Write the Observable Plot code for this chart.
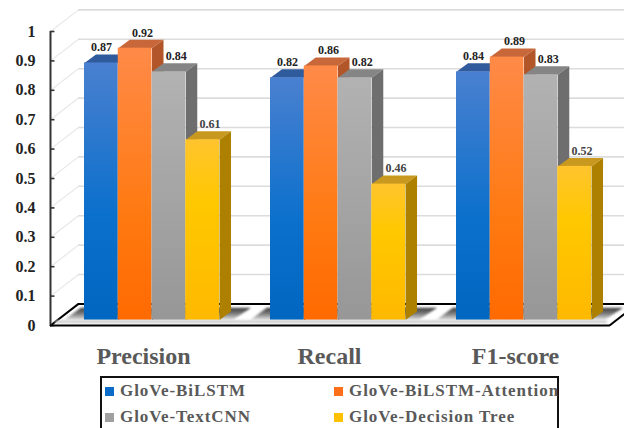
<!DOCTYPE html>
<html>
<head>
<meta charset="utf-8">
<script src="https://cdn.jsdelivr.net/npm/d3@7"></script>
<script src="https://cdn.jsdelivr.net/npm/@observablehq/plot@0.6"></script>
<style>
html,body{margin:0;padding:0;background:#fff;overflow:hidden;width:624px;height:428px}
svg{display:block}
#legend{box-sizing:border-box;margin-left:100px;width:459px;height:70px;border:2px solid #111;position:relative;
font:bold 17px "Liberation Serif",serif;letter-spacing:.95px;color:#595959}
#legend div{position:absolute;white-space:nowrap;line-height:20px}
#legend i{position:absolute;width:9px;height:9px;left:-15px;top:6px}
</style>
</head>
<body>
<div id="chart"></div>
<div id="legend"></div>
<script>
const categories = ["Precision", "Recall", "F1-score"];
const seriesNames = ["GloVe-BiLSTM", "GloVe-BiLSTM-Attention", "GloVe-TextCNN", "GloVe-Decision Tree"];
const bilstm = [0.87, 0.82, 0.84];
const attention = [0.92, 0.86, 0.89];
const textcnn = [0.84, 0.82, 0.83];
const decisionTree = [0.61, 0.46, 0.52];
const tickValues = [0, 0.1, 0.2, 0.3, 0.4, 0.5, 0.6, 0.7, 0.8, 0.9, 1];
const tickLabels = ["0", "0.1", "0.2", "0.3", "0.4", "0.5", "0.6", "0.7", "0.8", "0.9", "1"];

const allSeries = [bilstm, attention, textcnn, decisionTree];
const gradients = [
  [["0%", "#4a80d0"], ["60%", "#0a70cc"], ["100%", "#0066c0"]],
  [["0%", "#ff8a48"], ["60%", "#ff7a12"], ["100%", "#ff6a00"]],
  [["0%", "#b2b2b2"], ["100%", "#979797"]],
  [["0%", "#ffc42e"], ["35%", "#ffc800"], ["100%", "#ffb900"]]
];
const topColors = ["#2f5a9c", "#c8683a", "#858585", "#c9981f"];
const sideColors = ["#2a5aa0", "#b2562a", "#6e6e6e", "#ae8000"];

// perspective, in scale units
const axisX = -0.0484, backDX = 0.1505, backDY = 0.0735, frontRight = 2.957;
const barStart = 0.1344, barW = 0.1815, depthX = 0.0618, depthY = 0.0289;
const baseY = 0.0187, gain = 1.0048;
const barLeft = (g, k) => g + barStart + k * barW;
const valY = v => baseY + v * gain;

const defs = () => {
  const d = d3.create("svg:defs");
  gradients.forEach((stops, i) => {
    const g = d.append("linearGradient").attr("id", "g" + i).attr("x1", 0).attr("x2", 0).attr("y1", 0).attr("y2", 1);
    stops.forEach(([o, c]) => g.append("stop").attr("offset", o).attr("stop-color", c));
  });
  const s = d.append("linearGradient").attr("id", "shadow").attr("x1", 0).attr("x2", 0).attr("y1", 0).attr("y2", 1);
  s.append("stop").attr("offset", "0%").attr("stop-color", "#3c3c3c");
  s.append("stop").attr("offset", "45%").attr("stop-color", "#777");
  s.append("stop").attr("offset", "100%").attr("stop-color", "#e4e4e4");
  return d.node();
};

const poly = (pts, fill, extra = {}) => Plot.line(pts, {x: d => d[0], y: d => d[1], fill, stroke: "none", ...extra});

const gridVals = tickValues.slice(1);
const marks = [
  defs,
  // back wall gridlines and side wall diagonals
  Plot.ruleY(gridVals, {y: v => v + backDY, x1: axisX + backDX, x2: frontRight + backDX, stroke: "#dcdcdc", strokeWidth: 1.6}),
  ...gridVals.map(v => Plot.line([[axisX, v], [axisX + backDX, v + backDY]], {stroke: "#e8e8e8", strokeWidth: 1.2})),
  // floor edges
  Plot.line([[axisX, 0], [axisX + backDX, backDY], [frontRight + backDX, backDY], [frontRight, 0]], {stroke: "#000", strokeWidth: 2}),
  // floor highlight
  Plot.line([[axisX + 0.03, 0.013], [frontRight - 0.02, 0.013]], {stroke: "#c8c8c8", strokeWidth: 2.5, imageFilter: "blur(1px)"})
];
// shadows cast on the floor
categories.forEach((c, g) => {
  const l = barLeft(g, 0), r = barLeft(g, 4);
  marks.push(poly([[l - 0.11, baseY], [l - 0.02, baseY + 0.042], [r + 0.17, baseY + 0.042], [r + 0.07, baseY]], "url(#shadow)", {imageFilter: "blur(1.2px)"}));
});
// bars, left to right so each covers its neighbour's side face
allSeries.forEach((vals, k) => {
  vals.forEach((v, g) => {
    const l = barLeft(g, k), r = l + barW, t = valY(v);
    marks.push(
      poly([[l, t], [r, t], [r + depthX, t + depthY], [l + depthX, t + depthY]], topColors[k]),
      poly([[r, t], [r + depthX, t + depthY], [r + depthX, baseY + depthY], [r, baseY]], sideColors[k]),
      Plot.rect([v], {x1: l, x2: r, y1: baseY, y2: t, fill: `url(#g${k})`, inset: 0})
    );
  });
});
// value labels
allSeries.forEach((vals, k) => {
  marks.push(Plot.text(vals.map((v, g) => ({v, g})), {
    x: d => barLeft(d.g, k) + barW / 2 + (k === 0 ? 0 : 0.04),
    y: d => valY(d.v) + depthY + 0.024,
    text: d => d.v.toFixed(2),
    fontFamily: "Liberation Serif", fontWeight: "bold", fontSize: 12, fill: k === 3 ? "#444" : "#222"
  }));
});
marks.push(
  // value axis
  Plot.ruleX([axisX], {y1: 0, y2: 1, stroke: "#333", strokeWidth: 2}),
  Plot.ruleY(tickValues, {y: v => v, x1: axisX, x2: axisX + 0.024, stroke: "#333", strokeWidth: 1.6}),
  Plot.text(tickValues, {
    x: axisX, y: v => v, dx: -15, text: (v, i) => tickLabels[i], textAnchor: "end",
    fontFamily: "Liberation Serif", fontWeight: "bold", fontSize: 16, fill: "#222"
  }),
  // front floor edge
  Plot.ruleY([0], {x1: axisX, x2: frontRight, stroke: "#000", strokeWidth: 2}),
  // category labels
  Plot.text(categories, {
    x: (c, g) => g + 0.4516, y: () => -0.104, text: c => c,
    fontFamily: "Liberation Serif", fontWeight: "bold", fontSize: 24, fill: "#595959",
    style: {letterSpacing: "0.6px"}
  })
);

const plot = Plot.plot({
  width: 624, height: 376,
  margin: 0,
  x: {domain: [-0.3172, 3.0376], range: [0, 624], axis: null},
  y: {domain: [0, 1], range: [325, 31], axis: null},
  style: {background: "#fff"},
  marks
});
document.getElementById("chart").append(plot);

const swatches = ["#0a6cc8", "#ff6f1a", "#a0a0a0", "#ffc000"];
const legend = document.getElementById("legend");
seriesNames.forEach((n, i) => {
  const el = document.createElement("div");
  el.style.left = (i % 2 ? 247 : 18) + "px";
  el.style.top = (i < 2 ? 3 : 29) + "px";
  el.innerHTML = `<i style="background:${swatches[i]}"></i>`;
  el.append(n);
  legend.append(el);
});
</script>
</body>
</html>
